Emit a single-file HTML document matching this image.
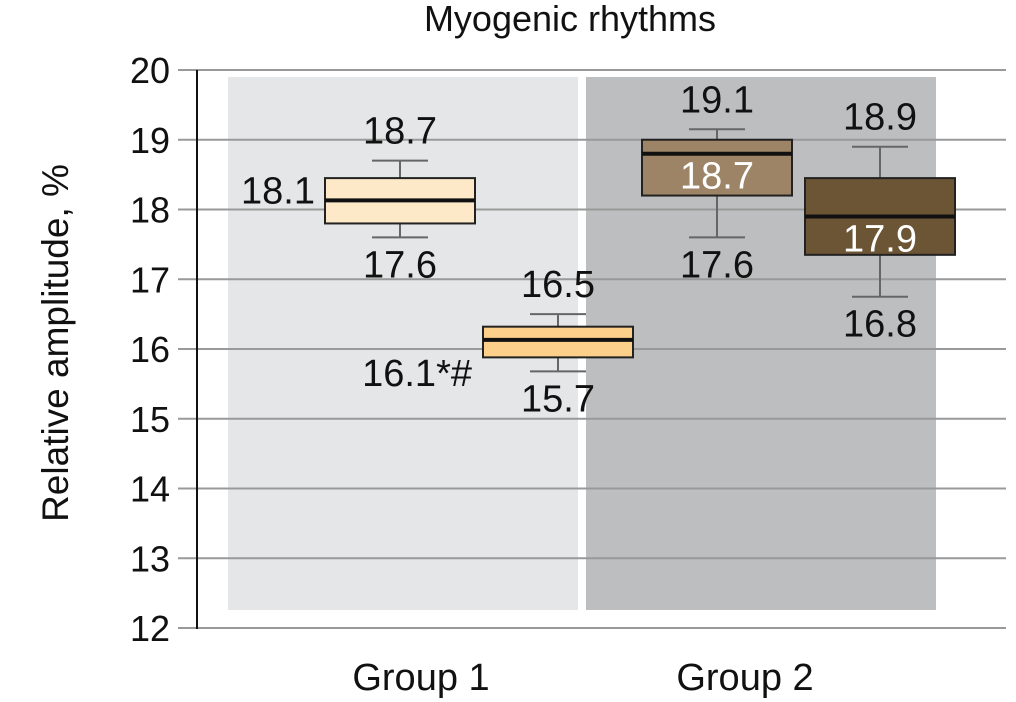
<!DOCTYPE html>
<html><head><meta charset="utf-8"><style>
html,body{margin:0;padding:0;background:#fff;}
svg{display:block;font-family:"Liberation Sans",Arial,sans-serif;}
</style></head><body>
<svg id="chart" width="1016" height="702" viewBox="0 0 1016 702">
<text x="570" y="31" font-size="36" text-anchor="middle" fill="#111">Myogenic rhythms</text>
<text transform="translate(68,343) rotate(-90)" font-size="37" text-anchor="middle" fill="#111">Relative amplitude, %</text>
<g id="bg"></g><g id="grid"></g><g id="boxes"></g><g id="labels"></g>
</svg>
<script>
const yTicks=[12,13,14,15,16,17,18,19,20];
const groupNames=["Group 1","Group 2"];
const boxNames=["g1-a","g1-b","g2-a","g2-b"];
const whiskLow=[17.6,15.68,17.6,16.75];
const q1=[17.8,15.88,18.2,17.35];
const median=[18.13,16.13,18.8,17.9];
const q3=[18.45,16.32,19.0,18.45];
const whiskHigh=[18.7,16.5,19.15,18.9];
const topLabels=["18.7","16.5","19.1","18.9"];
const midLabels=["18.1","16.1*#","18.7","17.9"];
const lowLabels=["17.6","15.7","17.6","16.8"];

const NS="http://www.w3.org/2000/svg";
const y=v=>628-(v-12)*69.75;
const boxX=[325,483,642,805], boxW=150;
const FS=38;
function mk(tag,attrs,parent,txt){const e=document.createElementNS(NS,tag);for(const k in attrs)e.setAttribute(k,attrs[k]);if(txt!==undefined)e.textContent=txt;document.getElementById(parent).appendChild(e);return e;}
const bgX=[228,586], bgC=["#e5e6e8","#bdbec0"], glX=[421,745];
groupNames.forEach((g,i)=>{
 const r=mk("rect",{x:bgX[i],y:77,width:350,height:533,fill:bgC[i]},"bg");
 
 
 const t=mk("text",{x:glX[i],y:690,"font-size":FS,"text-anchor":"middle",fill:"#111"},"labels",g);
 
 
});
yTicks.forEach(v=>{
 const l=mk("line",{x1:178,x2:1006,y1:y(v),y2:y(v),stroke:"#999","stroke-width":2},"grid");
 
 
 const t=mk("text",{x:170,y:y(v)+13,"font-size":36,"text-anchor":"end",fill:"#111"},"grid",String(v));
 
 
});
const ax=mk("line",{x1:197,x2:197,y1:y(20),y2:y(12)+1,stroke:"#111","stroke-width":2},"grid");


const fills=["#fde8c8","#fcd08a","#9e8466","#6b5535"];
const textCol=["#111","#111","#fff","#fff"];
boxNames.forEach((n,i)=>{
 const cx=boxX[i]+boxW/2;
 const w=mk("line",{x1:cx,x2:cx,y1:y(whiskHigh[i]),y2:y(whiskLow[i]),stroke:"#666","stroke-width":2},"boxes");
 
 
 [whiskHigh[i],whiskLow[i]].forEach(v=>{
  const c=mk("line",{x1:cx-28,x2:cx+28,y1:y(v),y2:y(v),stroke:"#666","stroke-width":2},"boxes");
  
  
 });
 const b=mk("rect",{x:boxX[i],y:y(q3[i]),width:boxW,height:y(q1[i])-y(q3[i]),fill:fills[i],stroke:"#222","stroke-width":2},"boxes");
 
 
 const m=mk("line",{x1:boxX[i],x2:boxX[i]+boxW,y1:y(median[i]),y2:y(median[i]),stroke:"#111","stroke-width":4},"boxes");
 
 
 const t1=mk("text",{x:cx,y:y(whiskHigh[i])-17,"font-size":FS,"text-anchor":"middle",fill:"#111"},"labels",topLabels[i]);
 
 
 const t3=mk("text",{x:cx,y:y(whiskLow[i])+40,"font-size":FS,"text-anchor":"middle",fill:"#111"},"labels",lowLabels[i]);
 
 
 let mx=cx,my=y(median[i])+35,anc="middle";
 if(i===0){mx=boxX[i]-10;my=y(median[i])+3;anc="end";}
 if(i===1){mx=boxX[i]-11;my=y(median[i])+46;anc="end";}
 const t2=mk("text",{x:mx,y:my,"font-size":FS,"text-anchor":anc,fill:textCol[i]},"labels",midLabels[i]);
 
 
});
</script>
</body></html>
